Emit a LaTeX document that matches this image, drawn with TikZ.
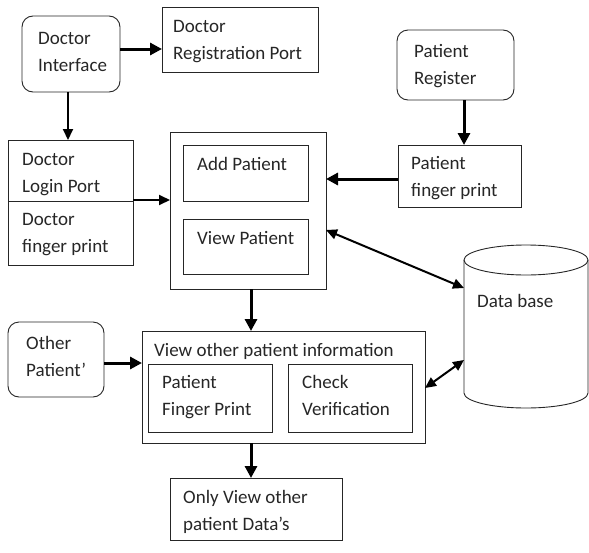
\documentclass[tikz,border=0pt]{standalone}
\usepackage{fontspec}
\setmainfont{Carlito}
\usetikzlibrary{arrows.meta}
\begin{document}
\begin{tikzpicture}[x=1pt,y=-1pt,
  box/.style={draw=black!85, line width=0.9pt, anchor=north west, inner sep=0pt, outer sep=0pt},
  rbox/.style={box, rounded corners=11pt},
  txt/.style={anchor=base west, inner sep=0pt, align=left, font=\fontsize{19}{27}\selectfont, text=black!85},
  bigarrow/.style={line width=3pt, -{Triangle[length=12pt,width=12pt]}},
  midarrow/.style={line width=2pt, -{Triangle[length=11pt,width=10pt]}},
  dblarrow/.style={line width=2pt, {Triangle[length=11pt,width=10pt]}-{Triangle[length=11pt,width=10pt]}}
]
\useasboundingbox (0,0) rectangle (589,552);
% boxes
\node[rbox, minimum width=98pt, minimum height=76pt] (di) at (22,16) {};
\node[box, minimum width=156pt, minimum height=65pt] (drp) at (162,7) {};
\node[box, minimum width=125pt, minimum height=125pt] (dlp) at (8,140) {};
\draw[draw=black!85, line width=0.9pt] (dlp.west |- 0,201) -- (dlp.east |- 0,201);
\node[box, minimum width=156pt, minimum height=157pt] (big) at (170,132) {};
\node[box, minimum width=125pt, minimum height=56pt] (add) at (183,145) {};
\node[box, minimum width=125pt, minimum height=55pt] (view) at (183,219) {};
\node[rbox, minimum width=117pt, minimum height=70pt] (pr) at (397,30) {};
\node[box, minimum width=123pt, minimum height=62pt] (pfp) at (398,145) {};
\node[box, minimum width=283pt, minimum height=112pt] (vopi) at (142,331) {};
\node[box, minimum width=124pt, minimum height=68pt] (pfp2) at (148,364) {};
\node[box, minimum width=124pt, minimum height=68pt] (cv) at (288,364) {};
\node[rbox, minimum width=96pt, minimum height=75pt] (op) at (8,322) {};
\node[box, minimum width=172pt, minimum height=62pt] (only) at (170,478) {};
% database cylinder
\draw[draw=black!85, line width=0.9pt] (464,260) -- (464,393)
  arc[start angle=180, end angle=0, x radius=62, y radius=15] -- (588,260);
\draw[draw=black!85, line width=0.9pt] (526,260) ellipse [x radius=62, y radius=15];
\coordinate (dbA) at (464,288);
\coordinate (dbB) at (464,360);
% texts (base = baseline of last line)
\node[txt] (tdi) at (38,71) {Doctor\\Interface};
\node[txt] (tdrp) at (173,59) {Doctor\\Registration Port};
\node[txt] (tdlp) at (22,192) {Doctor\\Login Port};
\node[txt] (tdfp) at (22,252) {Doctor\\finger print};
\node[txt] (tadd) at (197,170) {Add Patient};
\node[txt] (tview) at (197,244) {View Patient};
\node[txt] (tpr) at (414,84) {Patient\\Register};
\node[txt] (tpfp) at (411,196) {Patient\\finger print};
\node[txt] (tdb) at (477,307) {Data base};
\node[txt] (tvopi) at (154,356) {View other patient information};
\node[txt] (tpfp2) at (162,415) {Patient\\Finger Print};
\node[txt] (tcv) at (302,415) {Check\\Verification};
\node[txt] (top) at (26,376) {Other\\Patient’};
\node[txt] (tonly) at (183,530) {Only View other\\patient Data’s};
% connectors
\draw[bigarrow] (di.east |- 0,49) -- (drp.west |- 0,49);
\draw[midarrow] (68,0 |- di.south) -- (68,0 |- dlp.north);
\draw[bigarrow] (464,0 |- pr.south) -- (464,0 |- pfp.north);
\draw[bigarrow] (pfp.west |- 0,179) -- (big.east |- 0,179);
\draw[midarrow] (dlp.east |- 0,200) -- (big.west |- 0,200);
\draw[dblarrow] (big.east |- 0,230) -- (dbA);
\draw[bigarrow] (251,0 |- big.south) -- (251,0 |- vopi.north);
\draw[bigarrow] (op.east |- 0,363) -- (vopi.west |- 0,363);
\draw[dblarrow] (vopi.east |- 0,388) -- (dbB);
\draw[bigarrow] (251,0 |- vopi.south) -- (251,0 |- only.north);
\end{tikzpicture}
\end{document}
